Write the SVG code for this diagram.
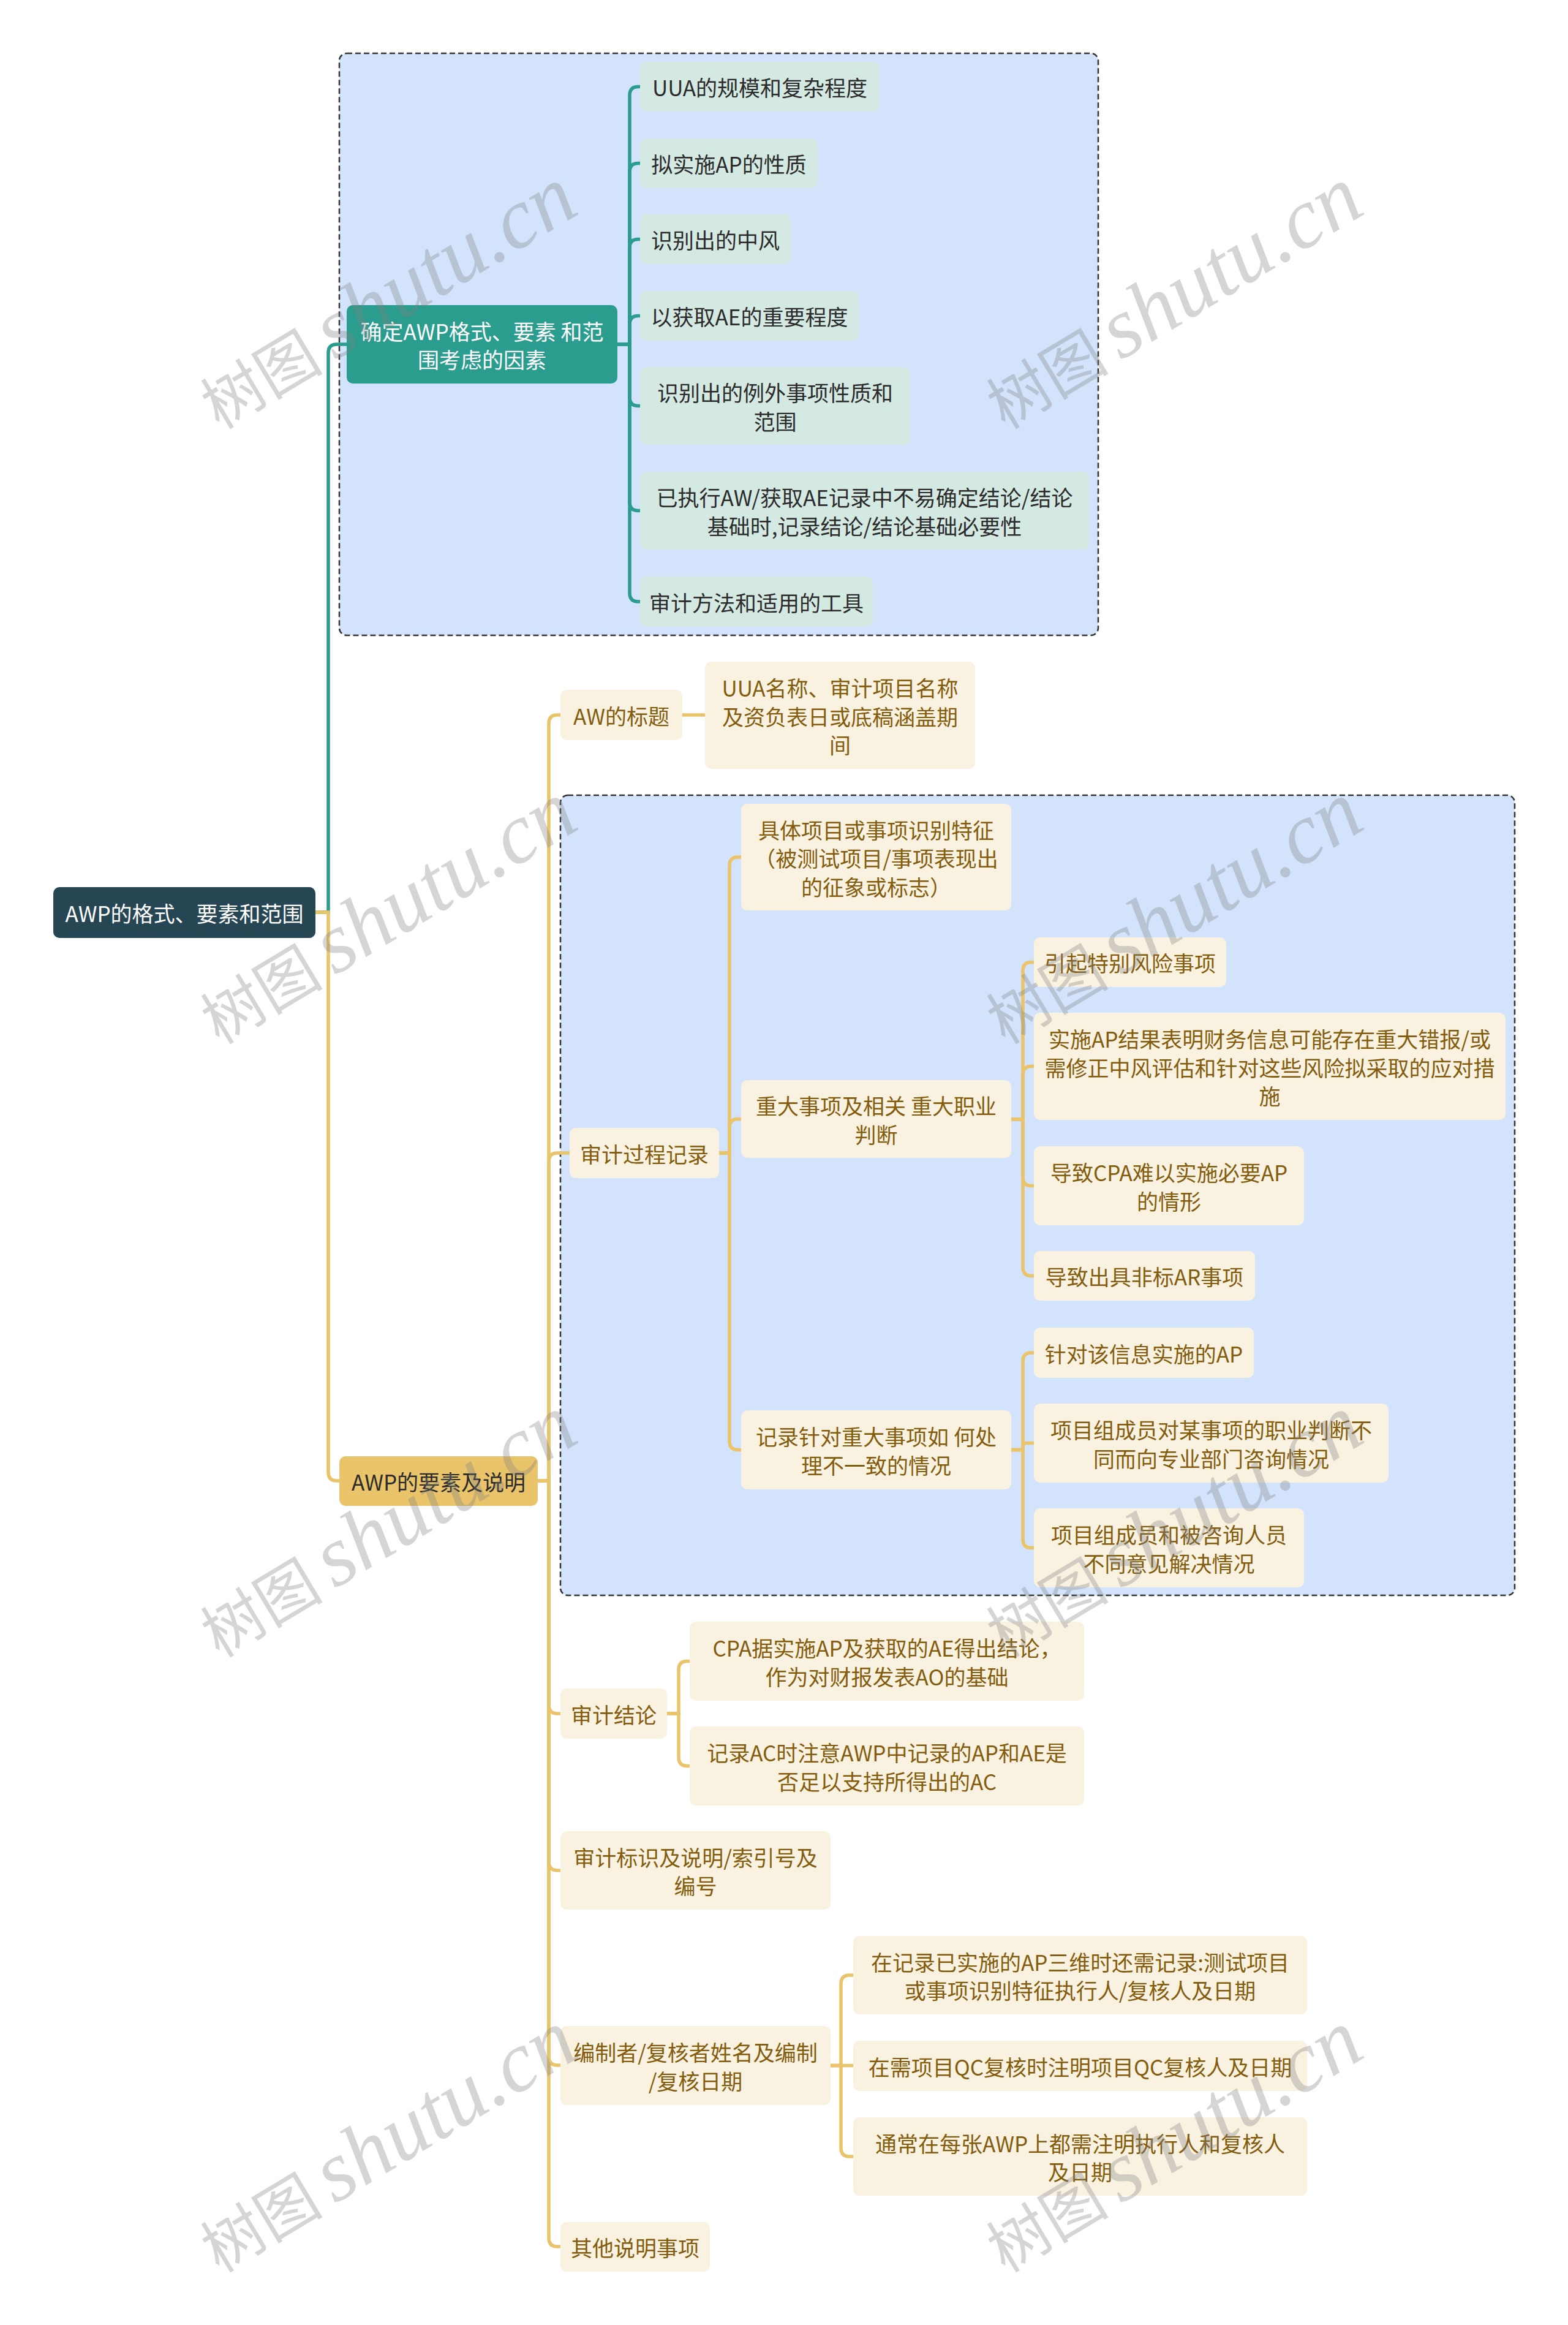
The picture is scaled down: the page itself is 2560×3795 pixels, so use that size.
<svg xmlns="http://www.w3.org/2000/svg" xmlns:xlink="http://www.w3.org/1999/xlink" width="2560" height="3795" viewBox="0 0 2560 3795">
<style>
.t{font-family:"Noto Sans CJK SC","Liberation Sans",sans-serif;font-size:35px;text-anchor:middle;dominant-baseline:central}
.tw{fill:#ffffff}.td{fill:#2b2b2b}.tb{fill:#835c0e}
.root{fill:#264653}.b1{fill:#2a9d8f}.b2{fill:#e9c46a}.mint{fill:#d5e9e3}.cream{fill:#f9f2e1}
.ct{fill:none;stroke:#2a9d8f;stroke-width:5.5}
.cg{fill:none;stroke:#e9c46a;stroke-width:5.5}
.dash{fill:#d3e3fc;stroke:#333333;stroke-width:2.5;stroke-dasharray:9 5}
.wm{font-family:"Liberation Serif",serif;font-style:italic;fill:#808080;fill-opacity:0.33}
</style>
<defs>
<g id="wm"><text class="wm" x="0" y="0"><tspan font-family="Noto Sans CJK SC, sans-serif" font-style="normal" font-size="100">树图</tspan><tspan dx="20" font-size="140">shutu.cn</tspan></text></g>
</defs>
<rect x="0" y="0" width="2560" height="3795" fill="#ffffff"/>

<g id="frames">
<rect class="dash" x="554" y="87" width="1239" height="950" rx="12"/>
<rect class="dash" x="915" y="1298" width="1558" height="1306" rx="12"/>
</g>

<g id="connectors">
<path class="ct" d="M515,1489 H536 V576 Q536,562 550,562 H566"/>
<path class="ct" d="M1008,562 H1028 V155.5 Q1028,141.5 1042,141.5 H1045"/>
<path class="ct" d="M1008,562 H1028 V280.5 Q1028,266.5 1042,266.5 H1045"/>
<path class="ct" d="M1008,562 H1028 V404.5 Q1028,390.5 1042,390.5 H1045"/>
<path class="ct" d="M1008,562 H1028 V529.5 Q1028,515.5 1042,515.5 H1045"/>
<path class="ct" d="M1008,562 H1028 V648.5 Q1028,662.5 1042,662.5 H1045"/>
<path class="ct" d="M1008,562 H1028 V819.5 Q1028,833.5 1042,833.5 H1045"/>
<path class="ct" d="M1008,562 H1028 V968 Q1028,982 1042,982 H1045"/>

<path class="cg" d="M515,1489 H536 V2403 Q536,2417 550,2417 H554"/>
<path class="cg" d="M878,2417 H896 V1181 Q896,1167 910,1167 H915"/>
<path class="cg" d="M878,2417 H896 V1896 Q896,1882 910,1882 H930"/>
<path class="cg" d="M878,2417 H896 V2783 Q896,2797 910,2797 H915"/>
<path class="cg" d="M878,2417 H896 V3039 Q896,3053 910,3053 H915"/>
<path class="cg" d="M878,2417 H896 V3357 Q896,3371 910,3371 H915"/>
<path class="cg" d="M878,2417 H896 V3653 Q896,3667 910,3667 H915"/>

<path class="cg" d="M1114,1167 H1151"/>

<path class="cg" d="M1174,1882 H1191 V1413 Q1191,1399 1205,1399 H1210"/>
<path class="cg" d="M1174,1882 H1191 V1840.5 Q1191,1826.5 1205,1826.5 H1210"/>
<path class="cg" d="M1174,1882 H1191 V2352.5 Q1191,2366.5 1205,2366.5 H1210"/>

<path class="cg" d="M1651,1827 H1670 V1584.5 Q1670,1570.5 1684,1570.5 H1688"/>
<path class="cg" d="M1651,1827 H1670 V1754.5 Q1670,1740.5 1684,1740.5 H1688"/>
<path class="cg" d="M1651,1827 H1670 V1921.5 Q1670,1935.5 1684,1935.5 H1688"/>
<path class="cg" d="M1651,1827 H1670 V2068.5 Q1670,2082.5 1684,2082.5 H1688"/>

<path class="cg" d="M1651,2366.5 H1670 V2222 Q1670,2208 1684,2208 H1688"/>
<path class="cg" d="M1651,2366.5 H1670 V2361.5 Q1670,2355.5 1676,2355.5 H1688"/>
<path class="cg" d="M1651,2366.5 H1670 V2512.5 Q1670,2526.5 1684,2526.5 H1688"/>

<path class="cg" d="M1089,2797 H1108 V2725.5 Q1108,2711.5 1122,2711.5 H1126"/>
<path class="cg" d="M1089,2797 H1108 V2868.5 Q1108,2882.5 1122,2882.5 H1126"/>

<path class="cg" d="M1356,3371.5 H1373 V3238 Q1373,3224 1387,3224 H1393"/>
<path class="cg" d="M1356,3371.5 H1393"/>
<path class="cg" d="M1356,3371.5 H1373 V3506 Q1373,3520 1387,3520 H1393"/>
</g>

<g id="n-root"><rect class="root" x="87" y="1448" width="428" height="83" rx="10"/><text class="t tw" x="301" y="1489.5">AWP的格式、要素和范围</text></g>

<g id="n-b1"><rect class="b1" x="566" y="498" width="442" height="128" rx="10"/><text class="t tw" x="787"><tspan x="787" y="538.75">确定AWP格式、要素 和范</tspan><tspan x="787" y="585.25">围考虑的因素</tspan></text></g>
<g id="n-c1"><rect class="mint" x="1045" y="101" width="391" height="81" rx="10"/><text class="t td" x="1240.5" y="141.5">UUA的规模和复杂程度</text></g>
<g id="n-c2"><rect class="mint" x="1045" y="226" width="290" height="81" rx="10"/><text class="t td" x="1190" y="266.5">拟实施AP的性质</text></g>
<g id="n-c3"><rect class="mint" x="1045" y="350" width="246" height="81" rx="10"/><text class="t td" x="1168" y="390.5">识别出的中风</text></g>
<g id="n-c4"><rect class="mint" x="1045" y="475" width="357" height="81" rx="10"/><text class="t td" x="1223.5" y="515.5">以获取AE的重要程度</text></g>
<g id="n-c5"><rect class="mint" x="1045" y="599" width="441" height="127" rx="10"/><text class="t td"><tspan x="1265.5" y="639.25">识别出的例外事项性质和</tspan><tspan x="1265.5" y="685.75">范围</tspan></text></g>
<g id="n-c6"><rect class="mint" x="1045" y="770" width="733" height="127" rx="10"/><text class="t td"><tspan x="1411.5" y="810.25">已执行AW/获取AE记录中不易确定结论/结论</tspan><tspan x="1411.5" y="856.75">基础时,记录结论/结论基础必要性</tspan></text></g>
<g id="n-c7"><rect class="mint" x="1045" y="941" width="380" height="82" rx="10"/><text class="t td" x="1235" y="982">审计方法和适用的工具</text></g>

<g id="n-b2"><rect class="b2" x="554" y="2377" width="324" height="81" rx="10"/><text class="t td" x="716" y="2417.5">AWP的要素及说明</text></g>

<g id="n-awt"><rect class="cream" x="915" y="1126" width="199" height="82" rx="10"/><text class="t tb" x="1014.5" y="1167">AW的标题</text></g>
<g id="n-uua"><rect class="cream" x="1151" y="1080" width="441" height="175" rx="10"/><text class="t tb"><tspan x="1371.5" y="1121">UUA名称、审计项目名称</tspan><tspan x="1371.5" y="1167.5">及资负表日或底稿涵盖期</tspan><tspan x="1371.5" y="1214">间</tspan></text></g>

<g id="n-gcjl"><rect class="cream" x="930" y="1841" width="244" height="82" rx="10"/><text class="t tb" x="1052" y="1882">审计过程记录</text></g>
<g id="n-jtxm"><rect class="cream" x="1210" y="1312" width="441" height="174" rx="10"/><text class="t tb"><tspan x="1430.5" y="1352.5">具体项目或事项识别特征</tspan><tspan x="1430.5" y="1399">（被测试项目/事项表现出</tspan><tspan x="1430.5" y="1445.5">的征象或标志）</tspan></text></g>
<g id="n-zdsx"><rect class="cream" x="1210" y="1763" width="441" height="127" rx="10"/><text class="t tb"><tspan x="1430.5" y="1803.25">重大事项及相关 重大职业</tspan><tspan x="1430.5" y="1849.75">判断</tspan></text></g>
<g id="n-jlzd"><rect class="cream" x="1210" y="2302" width="441" height="129" rx="10"/><text class="t tb"><tspan x="1430.5" y="2343.25">记录针对重大事项如 何处</tspan><tspan x="1430.5" y="2389.75">理不一致的情况</tspan></text></g>

<g id="n-yqtb"><rect class="cream" x="1688" y="1530" width="314" height="81" rx="10"/><text class="t tb" x="1845" y="1570.5">引起特别风险事项</text></g>
<g id="n-ssap"><rect class="cream" x="1688" y="1653" width="770" height="175" rx="10"/><text class="t tb"><tspan x="2073" y="1694">实施AP结果表明财务信息可能存在重大错报/或</tspan><tspan x="2073" y="1740.5">需修正中风评估和针对这些风险拟采取的应对措</tspan><tspan x="2073" y="1787">施</tspan></text></g>
<g id="n-dzcpa"><rect class="cream" x="1688" y="1871" width="441" height="129" rx="10"/><text class="t tb"><tspan x="1908.5" y="1912.25">导致CPA难以实施必要AP</tspan><tspan x="1908.5" y="1958.75">的情形</tspan></text></g>
<g id="n-dzar"><rect class="cream" x="1688" y="2042" width="361" height="81" rx="10"/><text class="t tb" x="1868.5" y="2082.5">导致出具非标AR事项</text></g>

<g id="n-zdgx"><rect class="cream" x="1688" y="2167" width="359" height="82" rx="10"/><text class="t tb" x="1867.5" y="2208">针对该信息实施的AP</text></g>
<g id="n-xmz1"><rect class="cream" x="1688" y="2291" width="579" height="129" rx="10"/><text class="t tb"><tspan x="1977.5" y="2332.25">项目组成员对某事项的职业判断不</tspan><tspan x="1977.5" y="2378.75">同而向专业部门咨询情况</tspan></text></g>
<g id="n-xmz2"><rect class="cream" x="1688" y="2462" width="441" height="129" rx="10"/><text class="t tb"><tspan x="1908.5" y="2503.25">项目组成员和被咨询人员</tspan><tspan x="1908.5" y="2549.75">不同意见解决情况</tspan></text></g>

<g id="n-sjjl"><rect class="cream" x="915" y="2756" width="174" height="82" rx="10"/><text class="t tb" x="1002" y="2797">审计结论</text></g>
<g id="n-cpa"><rect class="cream" x="1126" y="2647" width="644" height="129" rx="10"/><text class="t tb"><tspan x="1448" y="2688.25">CPA据实施AP及获取的AE得出结论，</tspan><tspan x="1448" y="2734.75">作为对财报发表AO的基础</tspan></text></g>
<g id="n-jlac"><rect class="cream" x="1126" y="2818" width="644" height="129" rx="10"/><text class="t tb"><tspan x="1448" y="2859.25">记录AC时注意AWP中记录的AP和AE是</tspan><tspan x="1448" y="2905.75">否足以支持所得出的AC</tspan></text></g>

<g id="n-sjbs"><rect class="cream" x="915" y="2989" width="441" height="128" rx="10"/><text class="t tb"><tspan x="1135.5" y="3029.75">审计标识及说明/索引号及</tspan><tspan x="1135.5" y="3076.25">编号</tspan></text></g>

<g id="n-bzz"><rect class="cream" x="915" y="3307" width="441" height="129" rx="10"/><text class="t tb"><tspan x="1135.5" y="3348.25">编制者/复核者姓名及编制</tspan><tspan x="1135.5" y="3394.75">/复核日期</tspan></text></g>
<g id="n-zjl"><rect class="cream" x="1393" y="3160" width="741" height="128" rx="10"/><text class="t tb"><tspan x="1763.5" y="3200.75">在记录已实施的AP三维时还需记录:测试项目</tspan><tspan x="1763.5" y="3247.25">或事项识别特征执行人/复核人及日期</tspan></text></g>
<g id="n-qc"><rect class="cream" x="1393" y="3331" width="741" height="82" rx="10"/><text class="t tb" x="1763.5" y="3372">在需项目QC复核时注明项目QC复核人及日期</text></g>
<g id="n-tc"><rect class="cream" x="1393" y="3456" width="741" height="128" rx="10"/><text class="t tb"><tspan x="1763.5" y="3496.75">通常在每张AWP上都需注明执行人和复核人</tspan><tspan x="1763.5" y="3543.25">及日期</tspan></text></g>

<g id="n-qt"><rect class="cream" x="915" y="3627" width="244" height="81" rx="10"/><text class="t tb" x="1037" y="3667.5">其他说明事项</text></g>

<g id="watermarks">
<use xlink:href="#wm" transform="translate(358,702) rotate(-31)"/>
<use xlink:href="#wm" transform="translate(1641,702) rotate(-31)"/>
<use xlink:href="#wm" transform="translate(358,1706) rotate(-31)"/>
<use xlink:href="#wm" transform="translate(1641,1706) rotate(-31)"/>
<use xlink:href="#wm" transform="translate(358,2707) rotate(-31)"/>
<use xlink:href="#wm" transform="translate(1641,2707) rotate(-31)"/>
<use xlink:href="#wm" transform="translate(358,3711) rotate(-31)"/>
<use xlink:href="#wm" transform="translate(1641,3711) rotate(-31)"/>
</g>
</svg>
